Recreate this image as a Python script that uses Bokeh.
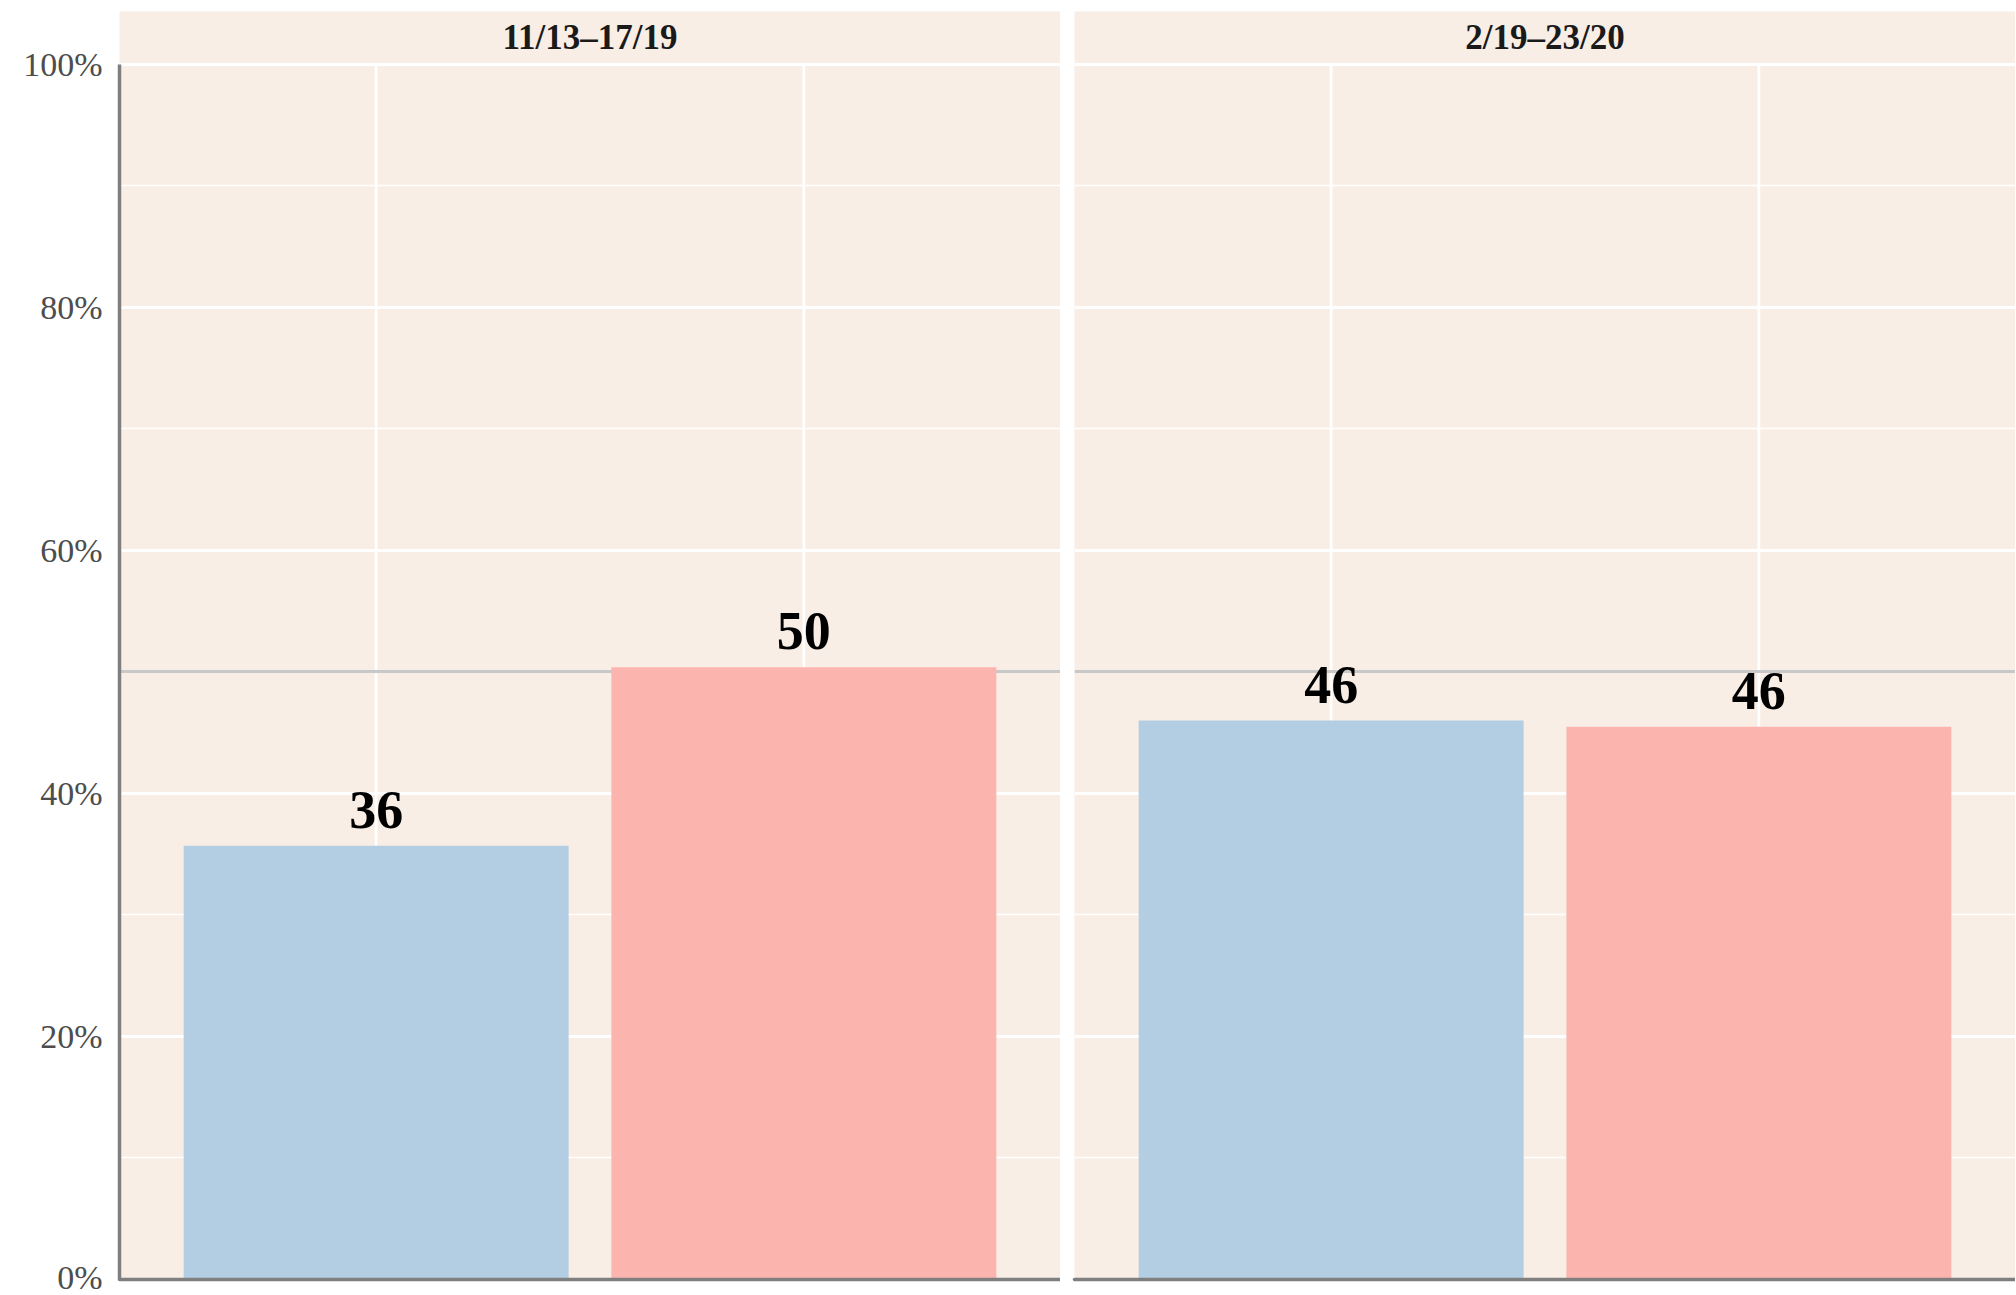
from bokeh.plotting import figure
from bokeh.layouts import row
from bokeh.models import (LinearAxis, Grid, FixedTicker, PrintfTickFormatter, Range1d)
from bokeh.core.properties import value
from bokeh.embed import file_html
from bokeh.resources import INLINE

# ---- data ----
PERIODS = ["11/13–17/19", "2/19–23/20"]
GROUPS = ["Democrats", "Republicans"]
GROUP_COLORS = ["#B3CDE3", "#FBB4AE"]
DEM_VALUES = [35.7, 46.0]
REP_VALUES = [50.4, 45.5]
DEM_LABELS = ["36", "46"]
REP_LABELS = ["50", "46"]
Y_TICKS = [0, 20, 40, 60, 80, 100]
Y_MINOR = [10, 30, 50, 70, 90]
REFERENCE_LINE = 50

# ---- styling ----
BG = "#F9EEE5"
SERIF = "Liberation Serif"
Y_END = 104.36
AXIS_GRAY = "#7F7F7F"


def make_panel(idx, left):
    period = PERIODS[idx]
    vals = [DEM_VALUES[idx], REP_VALUES[idx]]
    labels = [DEM_LABELS[idx], REP_LABELS[idx]]
    xs = list(range(len(GROUPS)))
    border_left = 119 if left else 14
    frame_w = 941
    p = figure(width=border_left + frame_w, height=1295,
               x_range=Range1d(-0.6, 1.6), y_range=Range1d(0, Y_END),
               x_axis_location=None, y_axis_location=None,
               output_backend="svg", toolbar_location=None,
               min_border_left=border_left, min_border_right=0,
               min_border_top=11, min_border_bottom=16,
               background_fill_color=BG, border_fill_color="white",
               outline_line_color=None)
    p.center = []  # drop default grids

    grid = Grid(dimension=1, ticker=FixedTicker(ticks=Y_TICKS, minor_ticks=Y_MINOR),
                grid_line_color="white", grid_line_width=3,
                minor_grid_line_color="white", minor_grid_line_width=1.5)
    p.add_layout(grid)

    # vertical grid lines at category positions, limited to the panel (0-100%)
    p.segment(x0=xs, y0=[Y_TICKS[0]] * len(xs), x1=xs, y1=[Y_TICKS[-1]] * len(xs),
              line_color="white", line_width=2.7, level="underlay")
    p.hspan(y=[REFERENCE_LINE], line_color="#C8C8C8", line_width=3)

    p.vbar(x=xs, top=vals, bottom=0, width=0.9, fill_color=GROUP_COLORS, line_color=None)
    p.text(x=xs, y=vals, text=labels, text_font=value(SERIF), text_font_style="bold",
           text_font_size="54px", text_align="center", text_baseline="alphabetic",
           y_offset=-36, text_color="black")

    # facet strip label
    p.text(x=[(xs[0] + xs[-1]) / 2], y=[Y_TICKS[-1]], text=[period], text_font=value(SERIF),
           text_font_style="bold", text_font_size="35px", text_align="center",
           text_baseline="alphabetic", y_offset=-27, text_color="#1A1A1A")

    xax = LinearAxis(ticker=FixedTicker(ticks=[]), axis_line_color=AXIS_GRAY,
                     axis_line_width=3.5, axis_line_cap="round",
                     major_tick_line_color=None, minor_tick_line_color=None,
                     major_tick_out=0, major_tick_in=0, minor_tick_out=0, minor_tick_in=0,
                     major_label_text_font_size="0px", major_label_standoff=0)
    p.add_layout(xax, "below")

    if left:
        yax = LinearAxis(ticker=FixedTicker(ticks=Y_TICKS, minor_ticks=[]),
                         formatter=PrintfTickFormatter(format="%d%%"),
                         bounds=(Y_TICKS[0], Y_TICKS[-1]),
                         axis_line_color=AXIS_GRAY, axis_line_width=3.5,
                         major_tick_line_color=None, minor_tick_line_color=None,
                         major_tick_out=0, major_tick_in=0, minor_tick_out=0, minor_tick_in=0,
                         major_label_standoff=17,
                         major_label_text_font=SERIF,
                         major_label_text_font_size="34px",
                         major_label_text_color="#4D4D4D")
        p.add_layout(yax, "left")
    return p


left_p = make_panel(0, True)
right_p = make_panel(1, False)
layout = row(left_p, right_p)

open("out.html", "w").write(file_html(layout, INLINE, title="Chart"))
